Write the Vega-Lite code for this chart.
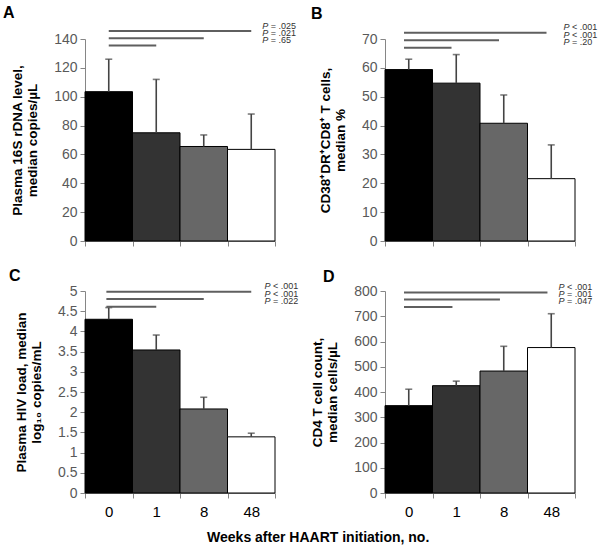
{
  "$schema": "https://vega.github.io/schema/vega-lite/v6.json",
  "padding": {"left": 3, "top": 4, "right": 0, "bottom": 0},
  "background": "white",
  "config": {
    "font": "Liberation Sans",
    "view": {"stroke": null},
    "axis": {
      "grid": false,
      "domainColor": "#868686",
      "tickColor": "#868686",
      "tickSize": 5,
      "labelColor": "#595959",
      "labelFont": "Liberation Sans",
      "labelFontSize": 14,
      "titleFont": "Liberation Sans",
      "titleFontSize": 13.5,
      "titleFontWeight": "bold",
      "titleColor": "#000000",
      "titleLineHeight": 15
    },
    "axisX": {"tickBand": "extent", "labelAngle": 0, "labelPadding": 6, "title": null},
    "axisY": {"labelPadding": 3, "titlePadding": 14},
    "title": {"font": "Liberation Sans", "fontSize": 16, "fontWeight": "bold", "color": "#000000", "anchor": "start", "frame": "group"}
  },
  "datasets": {
    "bars": [
      {"panel": "A", "week": "0", "value": 103.5, "upper": 126},
      {"panel": "A", "week": "1", "value": 75, "upper": 112},
      {"panel": "A", "week": "8", "value": 65.5, "upper": 73.5},
      {"panel": "A", "week": "48", "value": 63.5, "upper": 88},
      {"panel": "B", "week": "0", "value": 59.4, "upper": 63},
      {"panel": "B", "week": "1", "value": 54.7, "upper": 64.6},
      {"panel": "B", "week": "8", "value": 40.8, "upper": 50.6},
      {"panel": "B", "week": "48", "value": 21.6, "upper": 33.3},
      {"panel": "C", "week": "0", "value": 4.3, "upper": 4.59},
      {"panel": "C", "week": "1", "value": 3.54, "upper": 3.91},
      {"panel": "C", "week": "8", "value": 2.08, "upper": 2.37},
      {"panel": "C", "week": "48", "value": 1.39, "upper": 1.48},
      {"panel": "D", "week": "0", "value": 346, "upper": 411},
      {"panel": "D", "week": "1", "value": 425, "upper": 443},
      {"panel": "D", "week": "8", "value": 483, "upper": 581},
      {"panel": "D", "week": "48", "value": 576, "upper": 710}
    ],
    "sig": [
      {"panel": "A", "from": "0", "to": "48", "y": 145.5, "p": "= .025"},
      {"panel": "A", "from": "0", "to": "8", "y": 140.5, "p": "= .021"},
      {"panel": "A", "from": "0", "to": "1", "y": 135.5, "p": "= .65"},
      {"panel": "B", "from": "0", "to": "48", "y": 72.2, "p": "< .001"},
      {"panel": "B", "from": "0", "to": "8", "y": 69.6, "p": "< .001"},
      {"panel": "B", "from": "0", "to": "1", "y": 67.0, "p": "= .20"},
      {"panel": "C", "from": "0", "to": "48", "y": 4.98, "p": "< .001"},
      {"panel": "C", "from": "0", "to": "8", "y": 4.8, "p": "< .001"},
      {"panel": "C", "from": "0", "to": "1", "y": 4.61, "p": "= .022"},
      {"panel": "D", "from": "0", "to": "48", "y": 794, "p": "< .001"},
      {"panel": "D", "from": "0", "to": "8", "y": 766, "p": "= .001"},
      {"panel": "D", "from": "0", "to": "1", "y": 737, "p": "= .047"}
    ]
  },
  "title": {
    "text": "Weeks after HAART initiation, no.",
    "orient": "bottom",
    "anchor": "middle",
    "frame": "bounds",
    "fontSize": 14,
    "fontWeight": "bold",
    "offset": 12,
    "dx": 18
  },
  "columns": 2,
  "bounds": "flush",
  "spacing": {"row": 50, "column": 110},
  "concat": [
    {
      "title": {"text": "A", "dx": -82, "dy": 3},
      "width": 190, "height": 202,
      "layer": [
        {
          "data": {"name": "bars"},
          "transform": [{"filter": "datum.panel === 'A'"}],
          "mark": {"type": "bar", "stroke": "#000000", "strokeWidth": 1},
          "encoding": {
            "x": {"field": "week", "type": "nominal", "scale": {"domain": ["0", "1", "8", "48"], "paddingInner": 0, "paddingOuter": 0}, "axis": {"labels": false}},
            "y": {"field": "value", "type": "quantitative", "scale": {"domain": [0, 140], "nice": false}, "axis": {"values": [0, 20, 40, 60, 80, 100, 120, 140], "tickCount": 20, "labelOverlap": false, "title": ["Plasma 16S rDNA level,", "median copies/µL"]}},
            "fill": {"field": "week", "type": "nominal", "scale": {"domain": ["0", "1", "8", "48"], "range": ["#000000", "#333333", "#676767", "#ffffff"]}, "legend": null}
          }
        },
        {
          "data": {"name": "bars"},
          "transform": [{"filter": "datum.panel === 'A'"}],
          "mark": {"type": "rule", "color": "#444444", "strokeWidth": 1.6},
          "encoding": {"x": {"field": "week", "type": "nominal"}, "y": {"field": "value", "type": "quantitative"}, "y2": {"field": "upper"}}
        },
        {
          "data": {"name": "bars"},
          "transform": [{"filter": "datum.panel === 'A'"}],
          "mark": {"type": "tick", "color": "#444444", "size": 7, "thickness": 1.6},
          "encoding": {"x": {"field": "week", "type": "nominal"}, "y": {"field": "upper", "type": "quantitative"}}
        },
        {
          "data": {"name": "sig"},
          "transform": [{"filter": "datum.panel === 'A'"}],
          "mark": {"type": "rule", "color": "#5f5f5f", "strokeWidth": 2},
          "encoding": {"x": {"field": "from", "type": "nominal", "bandPosition": 0.5}, "x2": {"field": "to", "bandPosition": 0.5}, "y": {"field": "y", "type": "quantitative"}}
        },
        {
          "data": {"name": "sig"},
          "transform": [{"filter": "datum.panel === 'A'"}],
          "mark": {"type": "text", "text": "P", "fontStyle": "italic", "fontSize": 9, "align": "left", "baseline": "alphabetic", "color": "#333333", "dy": -2.5},
          "encoding": {"x": {"datum": "48", "type": "nominal", "bandPosition": 0.73}, "y": {"field": "y", "type": "quantitative"}}
        },
        {
          "data": {"name": "sig"},
          "transform": [{"filter": "datum.panel === 'A'"}],
          "mark": {"type": "text", "fontSize": 9, "align": "left", "baseline": "alphabetic", "color": "#333333", "dx": 8.5, "dy": -2.5},
          "encoding": {"x": {"datum": "48", "type": "nominal", "bandPosition": 0.73}, "y": {"field": "y", "type": "quantitative"}, "text": {"field": "p"}}
        }
      ]
    },
    {
      "title": {"text": "B", "dx": -74, "dy": 3},
      "width": 190, "height": 202,
      "layer": [
        {
          "data": {"name": "bars"},
          "transform": [{"filter": "datum.panel === 'B'"}],
          "mark": {"type": "bar", "stroke": "#000000", "strokeWidth": 1},
          "encoding": {
            "x": {"field": "week", "type": "nominal", "scale": {"domain": ["0", "1", "8", "48"], "paddingInner": 0, "paddingOuter": 0}, "axis": {"labels": false}},
            "y": {"field": "value", "type": "quantitative", "scale": {"domain": [0, 70], "nice": false}, "axis": {"values": [0, 10, 20, 30, 40, 50, 60, 70], "tickCount": 20, "labelOverlap": false, "title": ["CD38⁺DR⁺CD8⁺ T cells,", "median %"]}},
            "fill": {"field": "week", "type": "nominal", "scale": {"domain": ["0", "1", "8", "48"], "range": ["#000000", "#333333", "#676767", "#ffffff"]}, "legend": null}
          }
        },
        {
          "data": {"name": "bars"},
          "transform": [{"filter": "datum.panel === 'B'"}],
          "mark": {"type": "rule", "color": "#444444", "strokeWidth": 1.6},
          "encoding": {"x": {"field": "week", "type": "nominal"}, "y": {"field": "value", "type": "quantitative"}, "y2": {"field": "upper"}}
        },
        {
          "data": {"name": "bars"},
          "transform": [{"filter": "datum.panel === 'B'"}],
          "mark": {"type": "tick", "color": "#444444", "size": 7, "thickness": 1.6},
          "encoding": {"x": {"field": "week", "type": "nominal"}, "y": {"field": "upper", "type": "quantitative"}}
        },
        {
          "data": {"name": "sig"},
          "transform": [{"filter": "datum.panel === 'B'"}],
          "mark": {"type": "rule", "color": "#5f5f5f", "strokeWidth": 2},
          "encoding": {"x": {"field": "from", "type": "nominal", "bandPosition": 0.4}, "x2": {"field": "to", "bandPosition": 0.4}, "y": {"field": "y", "type": "quantitative"}}
        },
        {
          "data": {"name": "sig"},
          "transform": [{"filter": "datum.panel === 'B'"}],
          "mark": {"type": "text", "text": "P", "fontStyle": "italic", "fontSize": 9, "align": "left", "baseline": "alphabetic", "color": "#333333", "dy": -2.5},
          "encoding": {"x": {"datum": "48", "type": "nominal", "bandPosition": 0.76}, "y": {"field": "y", "type": "quantitative"}}
        },
        {
          "data": {"name": "sig"},
          "transform": [{"filter": "datum.panel === 'B'"}],
          "mark": {"type": "text", "fontSize": 9, "align": "left", "baseline": "alphabetic", "color": "#333333", "dx": 8.5, "dy": -2.5},
          "encoding": {"x": {"datum": "48", "type": "nominal", "bandPosition": 0.76}, "y": {"field": "y", "type": "quantitative"}, "text": {"field": "p"}}
        }
      ]
    },
    {
      "title": {"text": "C", "dx": -76, "dy": 6},
      "width": 190, "height": 202,
      "layer": [
        {
          "data": {"name": "bars"},
          "transform": [{"filter": "datum.panel === 'C'"}],
          "mark": {"type": "bar", "stroke": "#000000", "strokeWidth": 1},
          "encoding": {
            "x": {"field": "week", "type": "nominal", "scale": {"domain": ["0", "1", "8", "48"], "paddingInner": 0, "paddingOuter": 0}, "axis": {"labels": true, "labelColor": "#000000", "labelFontSize": 15}},
            "y": {"field": "value", "type": "quantitative", "scale": {"domain": [0, 5], "nice": false}, "axis": {"values": [0, 0.5, 1, 1.5, 2, 2.5, 3, 3.5, 4, 4.5, 5], "format": "~g", "tickCount": 20, "labelOverlap": false, "title": ["Plasma HIV load, median", "log₁₀ copies/mL"]}},
            "fill": {"field": "week", "type": "nominal", "scale": {"domain": ["0", "1", "8", "48"], "range": ["#000000", "#333333", "#676767", "#ffffff"]}, "legend": null}
          }
        },
        {
          "data": {"name": "bars"},
          "transform": [{"filter": "datum.panel === 'C'"}],
          "mark": {"type": "rule", "color": "#444444", "strokeWidth": 1.6},
          "encoding": {"x": {"field": "week", "type": "nominal"}, "y": {"field": "value", "type": "quantitative"}, "y2": {"field": "upper"}}
        },
        {
          "data": {"name": "bars"},
          "transform": [{"filter": "datum.panel === 'C'"}],
          "mark": {"type": "tick", "color": "#444444", "size": 7, "thickness": 1.6},
          "encoding": {"x": {"field": "week", "type": "nominal"}, "y": {"field": "upper", "type": "quantitative"}}
        },
        {
          "data": {"name": "sig"},
          "transform": [{"filter": "datum.panel === 'C'"}],
          "mark": {"type": "rule", "color": "#5f5f5f", "strokeWidth": 2},
          "encoding": {"x": {"field": "from", "type": "nominal", "bandPosition": 0.45}, "x2": {"field": "to", "bandPosition": 0.5}, "y": {"field": "y", "type": "quantitative"}}
        },
        {
          "data": {"name": "sig"},
          "transform": [{"filter": "datum.panel === 'C'"}],
          "mark": {"type": "text", "text": "P", "fontStyle": "italic", "fontSize": 9, "align": "left", "baseline": "alphabetic", "color": "#333333", "dy": -2.5},
          "encoding": {"x": {"datum": "48", "type": "nominal", "bandPosition": 0.78}, "y": {"field": "y", "type": "quantitative"}}
        },
        {
          "data": {"name": "sig"},
          "transform": [{"filter": "datum.panel === 'C'"}],
          "mark": {"type": "text", "fontSize": 9, "align": "left", "baseline": "alphabetic", "color": "#333333", "dx": 8.5, "dy": -2.5},
          "encoding": {"x": {"datum": "48", "type": "nominal", "bandPosition": 0.78}, "y": {"field": "y", "type": "quantitative"}, "text": {"field": "p"}}
        }
      ]
    },
    {
      "title": {"text": "D", "dx": -62, "dy": 6},
      "width": 190, "height": 202,
      "layer": [
        {
          "data": {"name": "bars"},
          "transform": [{"filter": "datum.panel === 'D'"}],
          "mark": {"type": "bar", "stroke": "#000000", "strokeWidth": 1},
          "encoding": {
            "x": {"field": "week", "type": "nominal", "scale": {"domain": ["0", "1", "8", "48"], "paddingInner": 0, "paddingOuter": 0}, "axis": {"labels": true, "labelColor": "#000000", "labelFontSize": 15}},
            "y": {"field": "value", "type": "quantitative", "scale": {"domain": [0, 800], "nice": false}, "axis": {"values": [0, 100, 200, 300, 400, 500, 600, 700, 800], "tickCount": 20, "labelOverlap": false, "title": ["CD4 T cell count,", "median cells/µL"]}},
            "fill": {"field": "week", "type": "nominal", "scale": {"domain": ["0", "1", "8", "48"], "range": ["#000000", "#333333", "#676767", "#ffffff"]}, "legend": null}
          }
        },
        {
          "data": {"name": "bars"},
          "transform": [{"filter": "datum.panel === 'D'"}],
          "mark": {"type": "rule", "color": "#444444", "strokeWidth": 1.6},
          "encoding": {"x": {"field": "week", "type": "nominal"}, "y": {"field": "value", "type": "quantitative"}, "y2": {"field": "upper"}}
        },
        {
          "data": {"name": "bars"},
          "transform": [{"filter": "datum.panel === 'D'"}],
          "mark": {"type": "tick", "color": "#444444", "size": 7, "thickness": 1.6},
          "encoding": {"x": {"field": "week", "type": "nominal"}, "y": {"field": "upper", "type": "quantitative"}}
        },
        {
          "data": {"name": "sig"},
          "transform": [{"filter": "datum.panel === 'D'"}],
          "mark": {"type": "rule", "color": "#5f5f5f", "strokeWidth": 2},
          "encoding": {"x": {"field": "from", "type": "nominal", "bandPosition": 0.4}, "x2": {"field": "to", "bandPosition": 0.42}, "y": {"field": "y", "type": "quantitative"}}
        },
        {
          "data": {"name": "sig"},
          "transform": [{"filter": "datum.panel === 'D'"}],
          "mark": {"type": "text", "text": "P", "fontStyle": "italic", "fontSize": 9, "align": "left", "baseline": "alphabetic", "color": "#333333", "dy": -2.5},
          "encoding": {"x": {"datum": "48", "type": "nominal", "bandPosition": 0.65}, "y": {"field": "y", "type": "quantitative"}}
        },
        {
          "data": {"name": "sig"},
          "transform": [{"filter": "datum.panel === 'D'"}],
          "mark": {"type": "text", "fontSize": 9, "align": "left", "baseline": "alphabetic", "color": "#333333", "dx": 8.5, "dy": -2.5},
          "encoding": {"x": {"datum": "48", "type": "nominal", "bandPosition": 0.65}, "y": {"field": "y", "type": "quantitative"}, "text": {"field": "p"}}
        }
      ]
    }
  ]
}
